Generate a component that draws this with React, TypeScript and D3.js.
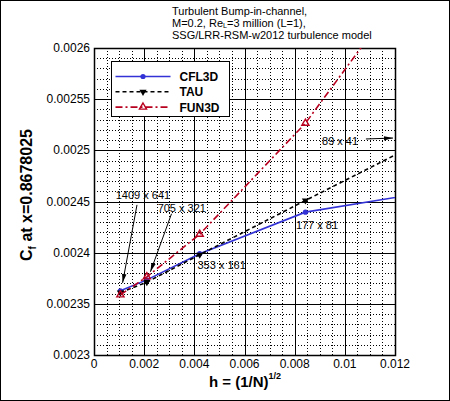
import { useEffect, useRef } from "react";
import * as d3 from "d3";

// grid sizes and h = (1/N)^(1/2), N = cell count
const grids = ["1409 x 641", "705 x 321", "353 x 161", "177 x 81", "89 x 41"];
const hValues = [0.001052, 0.002107, 0.004214, 0.008428, 0.016855];

const cfl3d = [0.0023627, 0.0023734, 0.002399, 0.0024396, 0.0024733];
const tau = [0.002361, 0.0023712, 0.002398, 0.002451, 0.0025557];
const fun3d = [0.0023588, 0.0023764, 0.002418, 0.0025265, 0.002807];

const xTicks = [0, 0.002, 0.004, 0.006, 0.008, 0.01, 0.012];
const yTicks = [0.0023, 0.00235, 0.0024, 0.00245, 0.0025, 0.00255, 0.0026];

// annotation anchors in data units: [label x, label y, arrow from x, from y, to x, to y]
const labelAnchors: [number, number, number | null, number | null, number | null, number | null][] = [
  [0.00195, 0.0024525, 0.001714, 0.0024467, 0.00114, 0.0023705],
  [0.0035, 0.0024398, 0.00309, 0.002438, 0.00225, 0.0023813],
  [0.00509, 0.0023842, null, null, null, null],
  [0.00889, 0.0024232, null, null, null, null],
  [0.00981, 0.0025048, 0.01084, 0.0025111, 0.01192, 0.002512],
];

const titleLines = ["Turbulent Bump-in-channel,", "SSG/LRR-RSM-w2012 turbulence model"];

const FONT = "'Liberation Sans', Arial, Helvetica, sans-serif";

export default function App() {
  const ref = useRef<SVGSVGElement | null>(null);

  useEffect(() => {
    document.body.style.margin = "0";
    if (!ref.current) return;
    const svg = d3.select(ref.current);
    svg.selectAll("*").remove();

    const width = 450;
    const height = 401;
    const margin = { top: 48, right: 55, bottom: 46, left: 94 };

    const x = d3.scaleLinear().domain([0, 0.012]).range([margin.left, width - margin.right]);
    const y = d3.scaleLinear().domain([0.0023, 0.0026]).range([height - margin.bottom, margin.top]);
    const [x0, x1] = x.range();
    const [y0, y1] = [y(0.0026), y(0.0023)];

    svg.attr("width", width).attr("height", height);

    svg.append("rect")
      .attr("x", 0.5).attr("y", 0.5)
      .attr("width", width - 1).attr("height", height - 1)
      .attr("fill", "white").attr("stroke", "black");

    svg.append("defs").append("clipPath").attr("id", "plot-clip")
      .append("rect")
      .attr("x", x0).attr("y", y0)
      .attr("width", x1 - x0).attr("height", y1 - y0);

    svg.select("defs").append("marker")
      .attr("id", "arrow")
      .attr("viewBox", "0 0 10 10")
      .attr("refX", 10).attr("refY", 5)
      .attr("markerWidth", 9).attr("markerHeight", 9)
      .attr("markerUnits", "userSpaceOnUse")
      .attr("orient", "auto")
      .append("path")
      .attr("d", "M0,2.5L10,5L0,7.5Z")
      .attr("fill", "black");

    // minor grid
    const grid = svg.append("g");
    const xMinor = d3.range(0, 0.01201, 0.0005).filter(v => !xTicks.some(t => Math.abs(t - v) < 1e-9));
    const yMinor = d3.range(0.0023, 0.0026001, 0.00001).filter(v => !yTicks.some(t => Math.abs(t - v) < 1e-9));
    grid.selectAll("line.xminor").data(xMinor).enter().append("line")
      .attr("x1", d => Math.round(x(d)) + 0.5).attr("x2", d => Math.round(x(d)) + 0.5)
      .attr("y1", y0).attr("y2", y1)
      .attr("stroke", "black").attr("stroke-width", 1).attr("stroke-dasharray", "1,2");
    grid.selectAll("line.yminor").data(yMinor).enter().append("line")
      .attr("y1", d => Math.round(y(d)) + 0.5).attr("y2", d => Math.round(y(d)) + 0.5)
      .attr("x1", x0).attr("x2", x1)
      .attr("stroke", "black").attr("stroke-width", 1).attr("stroke-dasharray", "1,2");

    // major grid
    grid.selectAll("line.xmajor").data(xTicks).enter().append("line")
      .attr("x1", d => Math.round(x(d)) + 0.5).attr("x2", d => Math.round(x(d)) + 0.5)
      .attr("y1", y0).attr("y2", y1)
      .attr("stroke", "black").attr("stroke-width", 1);
    grid.selectAll("line.ymajor").data(yTicks).enter().append("line")
      .attr("y1", d => Math.round(y(d)) + 0.5).attr("y2", d => Math.round(y(d)) + 0.5)
      .attr("x1", x0).attr("x2", x1)
      .attr("stroke", "black").attr("stroke-width", 1);

    // axis frame
    svg.append("rect")
      .attr("x", x0 + 0.5).attr("y", y0 + 0.5)
      .attr("width", x1 - x0).attr("height", y1 - y0)
      .attr("fill", "none").attr("stroke", "black").attr("stroke-width", 1.5);

    // tick labels
    svg.append("g").selectAll("text").data(xTicks).enter().append("text")
      .attr("x", d => x(d)).attr("y", y1 + 13)
      .attr("text-anchor", "middle")
      .attr("font-family", FONT).attr("font-size", 12)
      .text(d => String(+d.toFixed(4)));
    svg.append("g").selectAll("text").data(yTicks).enter().append("text")
      .attr("x", x0 - 4).attr("y", d => y(d) + 4)
      .attr("text-anchor", "end")
      .attr("font-family", FONT).attr("font-size", 12)
      .text(d => String(+d.toFixed(5)));

    // series
    const pts = (vals: number[]) => hValues.map((h, i) => [h, vals[i]] as [number, number]);
    const line = d3.line<[number, number]>().x(d => x(d[0])).y(d => y(d[1]));
    const series = [
      { name: "CFL3D", vals: cfl3d, color: "#3232d6", dash: null, marker: "circle" },
      { name: "TAU", vals: tau, color: "black", dash: "4,3", marker: "down" },
      { name: "FUN3D", vals: fun3d, color: "#b8001f", dash: "7,3,2,3", marker: "up" },
    ];
    const plot = svg.append("g").attr("clip-path", "url(#plot-clip)");

    const drawMarker = (g: d3.Selection<SVGGElement, unknown, null, undefined>, kind: string, cx: number, cy: number, color: string) => {
      if (kind === "circle") {
        g.append("circle").attr("cx", cx).attr("cy", cy).attr("r", 2.6).attr("fill", color);
      } else if (kind === "down") {
        g.append("path")
          .attr("d", d3.symbol(d3.symbolTriangle, 22)() as string)
          .attr("transform", `translate(${cx},${cy}) rotate(180)`)
          .attr("fill", color);
      } else {
        g.append("path")
          .attr("d", d3.symbol(d3.symbolTriangle, 22)() as string)
          .attr("transform", `translate(${cx},${cy})`)
          .attr("fill", "none").attr("stroke", color).attr("stroke-width", 1.4);
      }
    };

    series.forEach(s => {
      plot.append("path")
        .datum(pts(s.vals))
        .attr("d", line)
        .attr("fill", "none")
        .attr("stroke", s.color)
        .attr("stroke-width", 1.6)
        .attr("stroke-dasharray", s.dash);
      pts(s.vals).forEach(p => drawMarker(plot, s.marker, x(p[0]), y(p[1]), s.color));
    });

    // grid annotations
    const ann = svg.append("g");
    labelAnchors.forEach((a, i) => {
      ann.append("text")
        .attr("x", x(a[0])).attr("y", y(a[1]))
        .attr("text-anchor", "middle")
        .attr("font-family", FONT).attr("font-size", 11)
        .text(grids[i]);
      if (a[2] !== null) {
        ann.append("line")
          .attr("x1", x(a[2]!)).attr("y1", y(a[3]!))
          .attr("x2", x(a[4]!)).attr("y2", y(a[5]!))
          .attr("stroke", "black").attr("stroke-width", 1)
          .attr("marker-end", "url(#arrow)");
      }
    });

    // legend
    const lg = svg.append("g").attr("transform", "translate(111.5,61.5)");
    lg.append("rect").attr("width", 118).attr("height", 55)
      .attr("fill", "white").attr("stroke", "black").attr("stroke-width", 1);
    series.forEach((s, i) => {
      const ly = 15 + i * 15.3;
      lg.append("line").attr("x1", 4).attr("x2", 59).attr("y1", ly).attr("y2", ly)
        .attr("stroke", s.color).attr("stroke-width", 1.6).attr("stroke-dasharray", s.dash);
      drawMarker(lg, s.marker, 31.5, ly, s.color);
      lg.append("text").attr("x", 68).attr("y", ly + 4.5)
        .attr("font-family", FONT).attr("font-size", 12).attr("font-weight", "bold")
        .text(s.name);
    });

    // title, three lines, slightly wide lettering
    const tg = svg.append("g").attr("transform", "translate(172,0) scale(1.1,1)");
    const title = tg.append("text")
      .attr("font-family", FONT).attr("font-size", 10);
    title.append("tspan").attr("x", 0).attr("y", 15).text(titleLines[0]);
    const t2 = title.append("tspan").attr("x", 0).attr("y", 27);
    t2.append("tspan").text("M=0.2, Re");
    t2.append("tspan").attr("font-size", 6.5).attr("dy", 1).text("L");
    t2.append("tspan").attr("dy", -1).text("=3 million (L=1),");
    title.append("tspan").attr("x", 0).attr("y", 39).text(titleLines[1]);

    // axis titles
    const xl = svg.append("text")
      .attr("x", 245).attr("y", 387)
      .attr("text-anchor", "middle")
      .attr("font-family", FONT).attr("font-size", 15).attr("font-weight", "bold");
    xl.append("tspan").text("h = (1/N)");
    xl.append("tspan").attr("font-size", 9).attr("dy", -8).text("1/2");

    const yl = svg.append("text")
      .attr("transform", `translate(32,195) rotate(-90)`)
      .attr("text-anchor", "middle")
      .attr("font-family", FONT).attr("font-size", 16).attr("font-weight", "bold");
    yl.append("tspan").text("C");
    yl.append("tspan").attr("font-size", 10).attr("dy", 4).text("f");
    yl.append("tspan").attr("dy", -4).text(" at x=0.8678025");
  }, []);

  return (
    <div style={{ width: 450, height: 401 }}>
      <svg ref={ref} style={{ display: "block" }} />
    </div>
  );
}
